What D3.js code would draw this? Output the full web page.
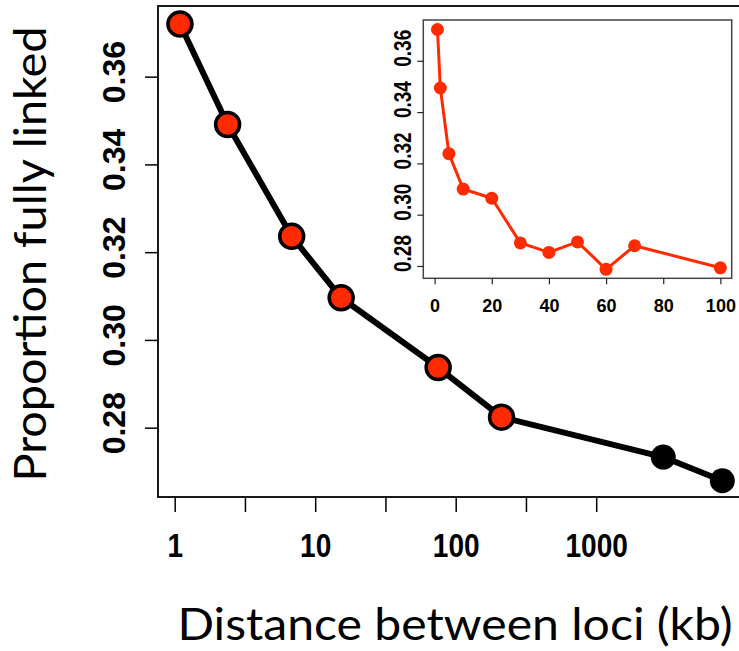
<!DOCTYPE html>
<html>
<head>
<meta charset="utf-8">
<script src="https://cdn.jsdelivr.net/npm/d3@7"></script>
<style>
  html, body { margin: 0; padding: 0; background: #fff; }
  svg { display: block; }
  .tick-label { font-family: "Liberation Sans", Arial, Helvetica, sans-serif; font-weight: bold; fill: #000; }
  .title { font-family: Lato, "Noto Sans", sans-serif; fill: #000; }
</style>
</head>
<body>
<svg id="chart" width="739" height="651"></svg>
<script>
// Main panel: proportion of fully linked locus pairs vs. distance (log axis)
const mainDistance = [1.09, 2.38, 6.8, 15.3, 75, 212, 3000, 7900];
const mainProportion = [0.3720, 0.3491, 0.3236, 0.3096, 0.2937, 0.2824, 0.2733, 0.2679];
const mainPointFill = ["red", "red", "red", "red", "red", "red", "black", "black"];
const mainXTicks = [1, 3.1623, 10, 31.623, 100, 316.23, 1000];
const mainXTickLabels = ["1", "", "10", "", "100", "", "1000"];
const mainYTicks = [0.28, 0.30, 0.32, 0.34, 0.36];
const mainYTickLabels = ["0.28", "0.30", "0.32", "0.34", "0.36"];

// Inset: same measure on a linear distance axis (0-100 kb)
const insetDistance = [1, 2, 5, 10, 20, 30, 40, 50, 60, 70, 100];
const insetProportion = [0.3722, 0.3494, 0.3238, 0.3100, 0.3064, 0.2890, 0.2853, 0.2894, 0.2787, 0.2879, 0.2793];
const insetXTicks = [0, 20, 40, 60, 80, 100];
const insetXTickLabels = ["0", "20", "40", "60", "80", "100"];
const insetYTicks = [0.28, 0.30, 0.32, 0.34, 0.36];
const insetYTickLabels = ["0.28", "0.30", "0.32", "0.34", "0.36"];

const RED = "#ff2a00";
const svg = d3.select("#chart");

// ---- main panel ----
const M = { left: 158, right: 744, top: 6, bottom: 497 };
const x = d3.scaleLog().domain([0.7606, 11270]).range([M.left, M.right]);
const y = d3.scaleLinear().domain([0.2642, 0.3761]).range([M.bottom, M.top]);

const gx = svg.append("g").attr("transform", `translate(0,${M.bottom})`)
  .call(d3.axisBottom(x).tickValues(mainXTicks).tickSize(15)
    .tickFormat((d, i) => mainXTickLabels[i]));
gx.select(".domain").remove();
gx.selectAll(".tick line").attr("stroke", "#000").attr("stroke-width", 1.5);
gx.selectAll(".tick text").attr("class", "tick-label").attr("font-size", 33)
  .attr("y", 60).attr("dy", 0)
  .each(function () {
    const t = d3.select(this).text();
    if (t) d3.select(this).attr("textLength", t.length * 15.6).attr("lengthAdjust", "spacingAndGlyphs");
  });

const gy = svg.append("g").attr("transform", `translate(${M.left},0)`)
  .call(d3.axisLeft(y).tickValues(mainYTicks).tickSize(13)
    .tickFormat((d, i) => mainYTickLabels[i]));
gy.select(".domain").remove();
gy.selectAll(".tick line").attr("stroke", "#000").attr("stroke-width", 1.5);
gy.selectAll(".tick text").attr("class", "tick-label").attr("font-size", 32)
  .attr("x", null).attr("dy", null).attr("text-anchor", "middle")
  .attr("transform", "translate(-33,-5) rotate(-90)");

svg.append("rect")
  .attr("x", M.left).attr("y", M.top)
  .attr("width", M.right - M.left).attr("height", M.bottom - M.top)
  .attr("fill", "none").attr("stroke", "#000").attr("stroke-width", 1.8);

const mainPts = mainDistance.map((d, i) => [x(d), y(mainProportion[i])]);
svg.append("path")
  .attr("d", d3.line()(mainPts))
  .attr("fill", "none").attr("stroke", "#000").attr("stroke-width", 6)
  .attr("stroke-linejoin", "round");

svg.append("g").selectAll("circle")
  .data(mainDistance)
  .join("circle")
  .attr("cx", d => x(d))
  .attr("cy", (d, i) => y(mainProportion[i]))
  .attr("r", (d, i) => mainPointFill[i] === "red" ? 12 : 12.5)
  .attr("fill", (d, i) => mainPointFill[i] === "red" ? RED : "#000")
  .attr("stroke", "#000")
  .attr("stroke-width", (d, i) => mainPointFill[i] === "red" ? 3.5 : 0);

// axis titles
svg.append("text").attr("class", "title")
  .attr("x", 455).attr("y", 640).attr("text-anchor", "middle")
  .attr("font-size", 44)
  .attr("textLength", 555).attr("lengthAdjust", "spacingAndGlyphs")
  .text("Distance between loci (kb)");

svg.append("text").attr("class", "title")
  .attr("transform", "translate(46,254) rotate(-90)")
  .attr("text-anchor", "middle")
  .attr("font-size", 44)
  .attr("textLength", 455).attr("lengthAdjust", "spacingAndGlyphs")
  .text("Proportion fully linked");

// ---- inset ----
const I = { left: 423.3, right: 731.7, top: 20, bottom: 278.3 };
const ix = d3.scaleLinear().domain([-3.96, 103.96]).range([I.left, I.right]);
const iy = d3.scaleLinear().domain([0.2752, 0.3759]).range([I.bottom, I.top]);

svg.append("rect")
  .attr("x", I.left).attr("y", I.top)
  .attr("width", I.right - I.left).attr("height", I.bottom - I.top)
  .attr("fill", "#fff").attr("stroke", "#444").attr("stroke-width", 1.5);

const igx = svg.append("g").attr("transform", `translate(0,${I.bottom})`)
  .call(d3.axisBottom(ix).tickValues(insetXTicks).tickSize(6)
    .tickFormat((d, i) => insetXTickLabels[i]));
igx.select(".domain").remove();
igx.selectAll(".tick line").attr("stroke", "#222").attr("stroke-width", 1.2);
igx.selectAll(".tick text").attr("class", "tick-label").attr("font-size", 18)
  .attr("y", 34).attr("dy", 0);

const igy = svg.append("g").attr("transform", `translate(${I.left},0)`)
  .call(d3.axisLeft(iy).tickValues(insetYTicks).tickSize(6)
    .tickFormat((d, i) => insetYTickLabels[i]));
igy.select(".domain").remove();
igy.selectAll(".tick line").attr("stroke", "#222").attr("stroke-width", 1.2);
igy.selectAll(".tick text").attr("class", "tick-label").attr("font-size", 24)
  .attr("x", null).attr("dy", null).attr("text-anchor", "middle")
  .attr("textLength", 37).attr("lengthAdjust", "spacingAndGlyphs")
  .attr("transform", "translate(-12,-13) rotate(-90)");

const insetPts = insetDistance.map((d, i) => [ix(d), iy(insetProportion[i])]);
svg.append("path")
  .attr("d", d3.line()(insetPts))
  .attr("fill", "none").attr("stroke", RED).attr("stroke-width", 3)
  .attr("stroke-linejoin", "round");

svg.append("g").selectAll("circle")
  .data(insetDistance)
  .join("circle")
  .attr("cx", d => ix(d))
  .attr("cy", (d, i) => iy(insetProportion[i]))
  .attr("r", 6.5)
  .attr("fill", RED);
</script>
</body>
</html>
